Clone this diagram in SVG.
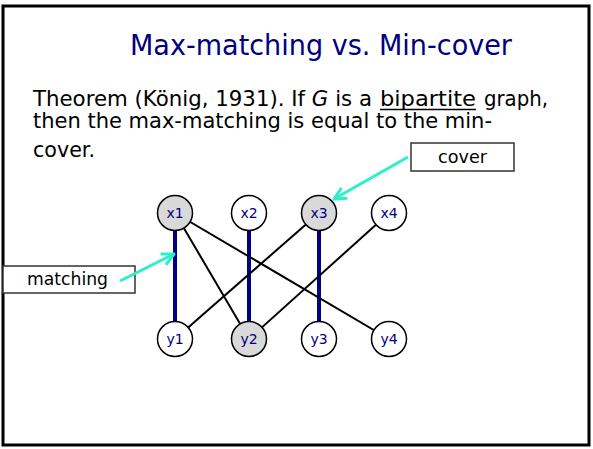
<svg xmlns="http://www.w3.org/2000/svg" width="593" height="449" viewBox="0 0 593 449">
<style>
.title{font-family:"DejaVu Sans","Liberation Sans",sans-serif;font-size:29px;fill:#000080}
.body{font-family:"DejaVu Sans","Liberation Sans",sans-serif;font-size:22px;fill:#000}
.lbl{font-family:"DejaVu Sans","Liberation Sans",sans-serif;font-size:17px;fill:#000}
.node circle{stroke:#000;stroke-width:1.5}
.node text{font-family:"DejaVu Sans","Liberation Sans",sans-serif;font-size:14px;fill:#000080;text-anchor:middle}
.on{fill:#d9d9d9}
.off{fill:#fff}
.match{stroke:#000080;stroke-width:4}
.edge{stroke:#000;stroke-width:2}
.ptr{stroke:#2ef0c8;stroke-width:3;fill:none}
.box{fill:#fff;stroke:#333;stroke-width:1.5}
</style>
<defs>
<marker id="ah" viewBox="0 0 10 10" refX="9" refY="5" markerWidth="5" markerHeight="5" orient="auto" markerUnits="strokeWidth">
<path d="M1,1 L9,5 L1,9" fill="none" stroke="#2ef0c8" stroke-width="2"/>
</marker>
</defs>
<rect x="3" y="6" width="586" height="439" fill="#fff" stroke="#000" stroke-width="3"/>
<text class="title" x="130" y="55" textLength="382" lengthAdjust="spacingAndGlyphs">Max-matching vs. Min-cover</text>
<text class="body" x="33" y="106" textLength="339" lengthAdjust="spacingAndGlyphs">Theorem (König, 1931). If <tspan font-style="italic">G</tspan> is a</text>
<text class="body" x="380" y="106" textLength="96" lengthAdjust="spacingAndGlyphs">bipartite</text>
<line x1="380" y1="109.5" x2="476" y2="109.5" stroke="#000" stroke-width="1.5"/>
<text class="body" x="484" y="106" textLength="64" lengthAdjust="spacingAndGlyphs">graph,</text>
<text class="body" x="33" y="128" textLength="459" lengthAdjust="spacingAndGlyphs">then the max-matching is equal to the min-</text>
<text class="body" x="33" y="157" textLength="62" lengthAdjust="spacingAndGlyphs">cover.</text>
<g id="connectors">
<line class="match" x1="175" y1="213" x2="175" y2="339"/>
<line class="match" x1="249" y1="213" x2="249" y2="339"/>
<line class="match" x1="319" y1="213" x2="319" y2="339"/>
<line class="edge" x1="175" y1="213" x2="249" y2="339"/>
<line class="edge" x1="175" y1="213" x2="389" y2="339"/>
<line class="edge" x1="319" y1="213" x2="175" y2="339"/>
<line class="edge" x1="389" y1="213" x2="249" y2="339"/>
</g>
<g id="x1" class="node"><circle class="on" cx="175" cy="213" r="17.5"/><text x="175" y="218">x1</text></g>
<g id="x2" class="node"><circle class="off" cx="249" cy="213" r="17.5"/><text x="249" y="218">x2</text></g>
<g id="x3" class="node"><circle class="on" cx="319" cy="213" r="17.5"/><text x="319" y="218">x3</text></g>
<g id="x4" class="node"><circle class="off" cx="389" cy="213" r="17.5"/><text x="389" y="218">x4</text></g>
<g id="y1" class="node"><circle class="off" cx="175" cy="339" r="17.5"/><text x="175" y="344">y1</text></g>
<g id="y2" class="node"><circle class="on" cx="249" cy="339" r="17.5"/><text x="249" y="344">y2</text></g>
<g id="y3" class="node"><circle class="off" cx="319" cy="339" r="17.5"/><text x="319" y="344">y3</text></g>
<g id="y4" class="node"><circle class="off" cx="389" cy="339" r="17.5"/><text x="389" y="344">y4</text></g>
<g id="matching">
<rect class="box" x="3" y="266" width="132" height="27"/>
<text class="lbl" x="27" y="285" textLength="81" lengthAdjust="spacingAndGlyphs">matching</text>
<line class="ptr" x1="120" y1="281" x2="174" y2="254" marker-end="url(#ah)"/>
</g>
<g id="cover">
<rect class="box" x="411" y="143" width="103" height="28"/>
<text class="lbl" x="438" y="163" textLength="49" lengthAdjust="spacingAndGlyphs">cover</text>
<line class="ptr" x1="408" y1="157" x2="334" y2="199" marker-end="url(#ah)"/>
</g>
</svg>
